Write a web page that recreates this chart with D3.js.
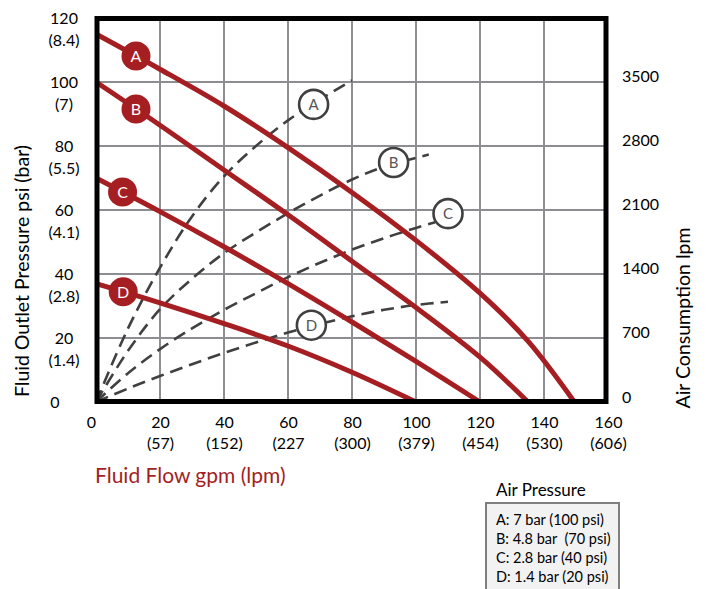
<!DOCTYPE html>
<html><head><meta charset="utf-8">
<script src="https://cdn.jsdelivr.net/npm/d3@7/dist/d3.min.js"></script>
<style>
body{margin:0;background:#fff}
svg{display:block}
text{font-family:Lato,"Open Sans",sans-serif}
</style>
</head><body>
<svg id="c" width="706" height="589"></svg>
<script>
// ---- data ----
const gpmTicks = [0, 20, 40, 60, 80, 100, 120, 140, 160];
const lpmTickLabels = ["", "(57)", "(152)", "(227", "(300)", "(379)", "(454)", "(530)", "(606)"];
const psiTicks = [0, 20, 40, 60, 80, 100, 120];
const barTickLabels = ["", "(1.4)", "(2.8)", "(4.1)", "(5.5)", "(7)", "(8.4)"];
const airTicks = [0, 700, 1400, 2100, 2800, 3500];
const curveNames = ["A", "B", "C", "D"];

// fluid outlet pressure (psi) vs fluid flow (gpm)
const pumpGpmA = [0, 20, 40, 60, 80, 100, 120, 135, 149.5];
const pumpPsiA = [115, 104, 92.5, 79.5, 65.5, 50.5, 34, 19, 0];
const pumpGpmB = [0, 20, 40, 60, 80, 100, 120, 135];
const pumpPsiB = [100, 86.5, 72.5, 58.5, 44, 29.5, 14, 0];
const pumpGpmC = [0, 20, 40, 60, 80, 100, 120];
const pumpPsiC = [70, 59.5, 48.5, 37, 25, 12.7, 0];
const pumpGpmD = [0, 20, 40, 60, 80, 100];
const pumpPsiD = [37, 31, 24.5, 17.5, 9.3, 0];

// air consumption (lpm) vs fluid flow (gpm)
const airGpmA = [0, 10, 20, 30, 40, 50, 60, 70, 80];
const airLpmA = [0, 805, 1470, 2030, 2468, 2800, 3080, 3308, 3518];
const airGpmB = [0, 10, 20, 30, 40, 50, 60, 70, 80, 90, 104];
const airLpmB = [0, 560, 1015, 1348, 1628, 1855, 2065, 2258, 2433, 2573, 2706];
const airGpmC = [0, 10, 20, 30, 40, 50, 60, 70, 80, 90, 100, 106];
const airLpmC = [0, 315, 578, 805, 1008, 1190, 1365, 1523, 1666, 1792, 1904, 1967];
const airGpmD = [0, 10, 20, 30, 40, 50, 60, 70, 80, 90, 100, 110];
const airLpmD = [0, 147, 284, 413, 536, 651, 760, 854, 938, 1008, 1061, 1096];

// label anchors (data units)
const pumpLabelGpm = [12.5, 12.5, 8.3, 8.5];
const airLabelGpm = [68, 93, 110, 67.3];
const airLabelLpm = [3255, 2620, 2060, 840];

const legendTitle = "Air Pressure";
const legendItems = ["A: 7 bar (100 psi)", "B: 4.8 bar  (70 psi)", "C: 2.8 bar (40 psi)", "D: 1.4 bar (20 psi)"];

// ---- chart ----
const RED = "#a41e22", DASH = "#404040", GRID = "#8e8e92";
const svg = d3.select("#c");
const x = d3.scaleLinear().domain([0, 160]).range([96, 608]);
const y = d3.scaleLinear().domain([0, 120]).range([402, 18]);
const yAir = d3.scaleLinear().domain([0, 4200]).range([402, 18]);
const yAirLabel = d3.scaleLinear().domain([0, 3500]).range([397, 76]);

// grid
const grid = svg.append("g").attr("stroke", GRID).attr("stroke-width", 2);
grid.selectAll("line.v").data(gpmTicks.slice(1, -1)).join("line")
  .attr("x1", d => x(d)).attr("x2", d => x(d)).attr("y1", y(120)).attr("y2", y(0));
grid.selectAll("line.h").data(psiTicks.slice(1, -1)).join("line")
  .attr("x1", x(0)).attr("x2", x(160)).attr("y1", d => y(d)).attr("y2", d => y(d));

// dashed air-consumption curves
const airSeries = [[airGpmA, airLpmA], [airGpmB, airLpmB], [airGpmC, airLpmC], [airGpmD, airLpmD]];
const airLine = d3.line().x(d => x(d[0])).y(d => yAir(d[1])).curve(d3.curveCatmullRom.alpha(0.5));
svg.append("g").selectAll("path").data(airSeries).join("path")
  .attr("d", s => airLine(s[0].map((g, i) => [g, s[1][i]])))
  .attr("fill", "none").attr("stroke", DASH).attr("stroke-width", 2.6)
  .attr("stroke-dasharray", "13,7");

// red pump curves
const pumpSeries = [[pumpGpmA, pumpPsiA], [pumpGpmB, pumpPsiB], [pumpGpmC, pumpPsiC], [pumpGpmD, pumpPsiD]];
const pumpLine = d3.line().x(d => x(d[0])).y(d => y(d[1])).curve(d3.curveCatmullRom.alpha(0.5));
svg.append("g").selectAll("path").data(pumpSeries).join("path")
  .attr("d", s => pumpLine(s[0].map((g, i) => [g, s[1][i]])))
  .attr("fill", "none").attr("stroke", RED).attr("stroke-width", 5);

// frame
svg.append("rect").attr("x", x(0) + 1).attr("y", y(120) + 0.5)
  .attr("width", x(160) - x(0) - 3).attr("height", y(0) - y(120) - 1)
  .attr("fill", "none").attr("stroke", "#000").attr("stroke-width", 5);

// red markers
function interp(gs, vs, g) {
  for (let i = 1; i < gs.length; i++) {
    if (g <= gs[i]) { const t = (g - gs[i - 1]) / (gs[i] - gs[i - 1]); return vs[i - 1] + t * (vs[i] - vs[i - 1]); }
  }
  return vs[vs.length - 1];
}
const mk = svg.append("g").selectAll("g").data(curveNames).join("g")
  .attr("transform", (d, i) => `translate(${x(pumpLabelGpm[i])},${y(interp(pumpSeries[i][0], pumpSeries[i][1], pumpLabelGpm[i]))})`);
mk.append("circle").attr("r", 14.5).attr("fill", RED);
mk.append("text").text(d => d).attr("text-anchor", "middle").attr("dy", "0.36em")
  .attr("fill", "#fff").attr("font-size", 16);

// open labels on air curves
const ol = svg.append("g").selectAll("g").data(curveNames).join("g")
  .attr("transform", (d, i) => `translate(${x(airLabelGpm[i])},${yAir(airLabelLpm[i])})`);
ol.append("circle").attr("r", 14.5).attr("fill", "#fff").attr("stroke", DASH).attr("stroke-width", 2.6);
ol.append("text").text(d => d).attr("text-anchor", "middle").attr("dy", "0.36em")
  .attr("fill", "#555").attr("font-size", 15);

// bottom axis
const bx = svg.append("g").attr("transform", "translate(0,422)")
  .call(d3.axisBottom(x).tickValues(gpmTicks).tickSize(0).tickPadding(0));
bx.attr("font-size", 16).attr("font-family", null);
bx.select(".domain").remove();
bx.selectAll(".tick text").each(function (d, i) {
  const t = d3.select(this).text(null).attr("y", 0).attr("dy", null).attr("fill", "#000");
  t.append("tspan").attr("x", i === 0 ? -5 : 0).attr("dy", "0.35em").text(d);
  t.append("tspan").attr("x", 0).attr("dy", 21).text(lpmTickLabels[i]);
});

// left axis
const ly = svg.append("g").attr("transform", "translate(64,0)")
  .call(d3.axisLeft(y).tickValues(psiTicks).tickSize(0).tickPadding(0));
ly.attr("font-size", 16).attr("font-family", null).attr("text-anchor", "middle");
ly.select(".domain").remove();
ly.selectAll(".tick text").each(function (d, i) {
  const t = d3.select(this).text(null).attr("x", 0).attr("dy", null).attr("fill", "#000");
  t.append("tspan").attr("x", i === 0 ? -9 : 0).attr("dy", "0.35em").text(d);
  t.append("tspan").attr("x", 0).attr("dy", 22).text(barTickLabels[i]);
});

// right axis
const ry = svg.append("g").attr("transform", "translate(622,0)")
  .call(d3.axisRight(yAirLabel).tickValues(airTicks).tickFormat(d3.format("d")).tickSize(0).tickPadding(0));
ry.attr("font-size", 16).attr("font-family", null);
ry.select(".domain").remove();
ry.selectAll(".tick text").attr("fill", "#000");

// axis titles
svg.append("text").attr("transform", "translate(29,271) rotate(-90)")
  .attr("text-anchor", "middle").attr("font-size", 19.5).attr("fill", "#000")
  .text("Fluid Outlet Pressure psi (bar)");
svg.append("text").attr("transform", "translate(690,318) rotate(-90)")
  .attr("text-anchor", "middle").attr("font-size", 19.5).attr("fill", "#000")
  .text("Air Consumption lpm");
svg.append("text").attr("x", 95).attr("y", 476).attr("dy", "0.35em")
  .attr("font-size", 21).attr("fill", RED).text("Fluid Flow gpm (lpm)");

// legend
svg.append("text").attr("x", 496).attr("y", 490).attr("dy", "0.35em")
  .attr("font-size", 17).attr("fill", "#000").text(legendTitle);
svg.append("rect").attr("x", 486).attr("y", 503).attr("width", 133).attr("height", 95)
  .attr("fill", "#f2f2f2").attr("stroke", "#7f7f7f").attr("stroke-width", 2);
svg.append("g").selectAll("text").data(legendItems).join("text")
  .attr("x", 496).attr("y", (d, i) => 520 + i * 19).attr("dy", "0.35em")
  .attr("font-size", 14.5).attr("fill", "#000").style("white-space", "pre").text(d => d);
</script>
</body></html>
